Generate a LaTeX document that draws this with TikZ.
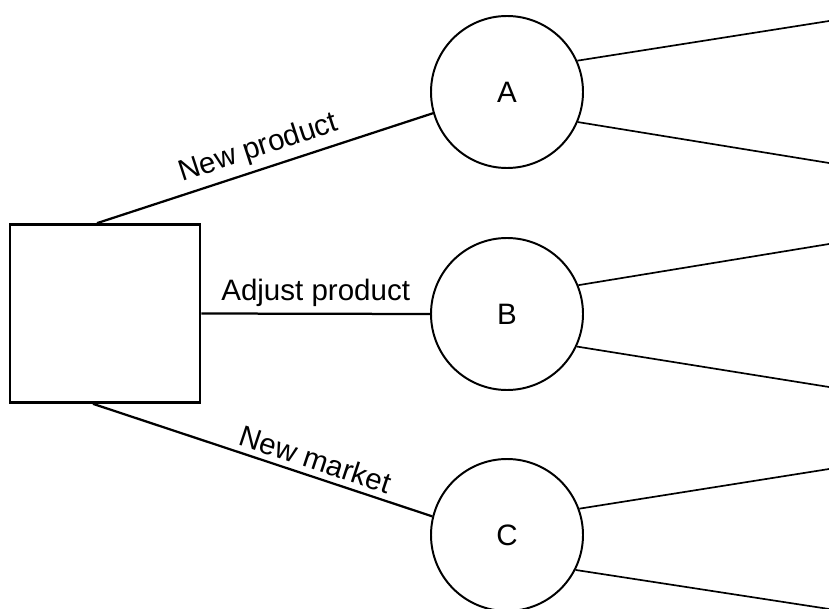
\documentclass[tikz,border=0pt]{standalone}
\usepackage{fontspec}
\setmainfont{Liberation Sans}
\usetikzlibrary{calc, positioning}

\tikzset{
  decision/.style={draw, line width=1.9pt, minimum width=4.75cm, minimum height=4.45cm, inner sep=0pt},
  chance/.style={draw, circle, line width=1.4pt, minimum size=3.8cm, inner sep=0pt},
  option/.style={line width=1.6pt},
  outcome/.style={line width=1.2pt},
  lbl/.style={inner sep=4pt}
}

\begin{document}
\begin{tikzpicture}[font=\fontsize{21}{25}\selectfont]
                \useasboundingbox (0,0) rectangle (20.725,15.2);
                \clip (0,0) rectangle (20.725,15.2);

                % Decision box
                \node[decision] (sq) at (2.625,7.3625) {};

                % Chance nodes
                \node[chance] (A) at (12.675,12.9) {A};
                \node[chance] (B) at (12.675,7.35) {B};
                \node[chance] (C) at (12.675,1.825) {C};

                % Options
                \draw[option] ($(sq.north)+(-0.2,0)$) -- (A.196)
                    node[lbl, midway, above, sloped] {New product};
                \draw[option] (sq.east) -- (B.west)
                    node[lbl, midway, above] {Adjust product};
                \draw[option] ($(sq.south)+(-0.3,0)$) -- (C.166)
                    node[lbl, pos=0.64, above, sloped] {New market};

                % Free ends of the outcomes
                \coordinate (A1) at (20.725,14.675);
                \coordinate (A2) at (20.725,11.125);
                \coordinate (B1) at (20.725,9.1);
                \coordinate (B2) at (20.725,5.525);
                \coordinate (C1) at (20.725,3.475);
                \coordinate (C2) at (20.725,-0.025);

                % Outcomes
                \foreach \n/\t/\b in {A/24/-23, B/22/-25, C/20/-27}
                    {
                    \draw[outcome] (\n.\t) -- (\n1);
                    \draw[outcome] (\n.\b) -- (\n2);
                    }
            \end{tikzpicture}
\end{document}
